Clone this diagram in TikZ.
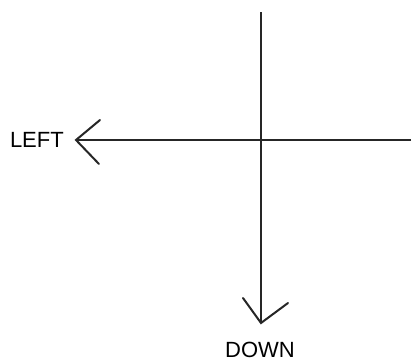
\documentclass[tikz,border=0pt]{standalone}
\usepackage{fontspec}
\setmainfont{Liberation Sans}
\usetikzlibrary{positioning}

\begin{document}
\begin{tikzpicture}[x=1pt, y=-1pt,
  axis/.style={line width=2pt, draw=black!85},
  barb/.style={line width=2pt, draw=black!85, line cap=round},
  word/.style={font=\fontsize{22}{24}\selectfont, inner sep=0pt}
]
  \useasboundingbox (0,0) rectangle (412,362);

  % axes
  \coordinate (top) at (261,12);
  \coordinate (right) at (411,140);
  \coordinate (downtip) at (261,323);
  \coordinate (lefttip) at (76,140);
  \draw[axis] (top) -- (downtip);
  \draw[axis] (right) -- (lefttip);

  % hand drawn heads
  \draw[barb] ([xshift=24pt,yshift=20pt]lefttip) -- (lefttip) -- ([xshift=23pt,yshift=-24pt]lefttip);
  \draw[barb] ([xshift=-18pt,yshift=25pt]downtip) -- (downtip) -- ([xshift=27pt,yshift=20pt]downtip);

  % labels
  \node[word, anchor=east] (left) at (64,140) {LEFT};
  \node[word] (down) at (260,350) {DOWN};
\end{tikzpicture}
\end{document}
